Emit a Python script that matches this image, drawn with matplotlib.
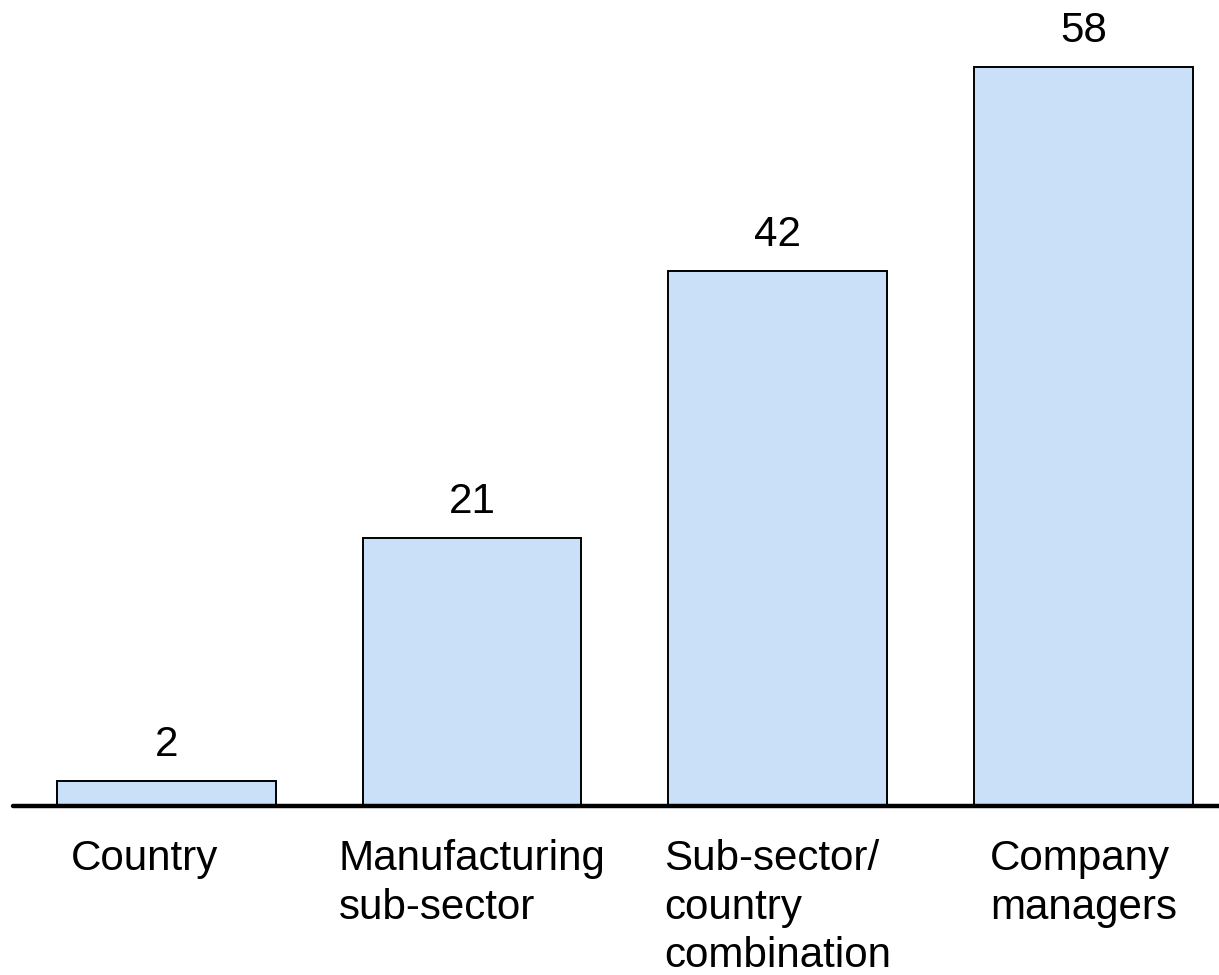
import matplotlib
matplotlib.use("Agg")
import matplotlib.pyplot as plt

categories = ["Country", "Manufacturing\nsub-sector", "Sub-sector/\ncountry\ncombination", "Company\nmanagers"]
values = [2, 21, 42, 58]
label_shift = [-0.072, 0.0, 0.0, 0.0]

plt.rcParams["font.family"] = ["Liberation Sans", "DejaVu Sans"]

fig = plt.figure(figsize=(12.19, 9.75), dpi=100)
ax = fig.add_axes([13 / 1219, 169 / 975, 1206 / 1219, 806 / 975])

x = list(range(len(values)))
ax.bar(x, values, width=0.716, color="#c9e0f8", edgecolor="black", linewidth=1.4, zorder=2)
ax.axhline(0, color="black", linewidth=3.2, solid_capstyle="round", clip_on=False, zorder=3)

for xi, v in zip(x, values):
    ax.annotate(str(v), (xi, v), xytext=(0, 18), textcoords="offset points",
                ha="center", va="baseline", fontsize=30.3)

for xi, lab, dx in zip(x, categories, label_shift):
    ax.annotate(lab, (xi + dx, 0), xytext=(0, -24), textcoords="offset points",
                ha="center", va="top", multialignment="left", fontsize=30.3,
                linespacing=1.27, annotation_clip=False)

ax.set_xlim(-0.502, 3.444)
ax.set_ylim(0, 806 / (739 / 58))
ax.axis("off")

fig.savefig("out.png", dpi=100)
